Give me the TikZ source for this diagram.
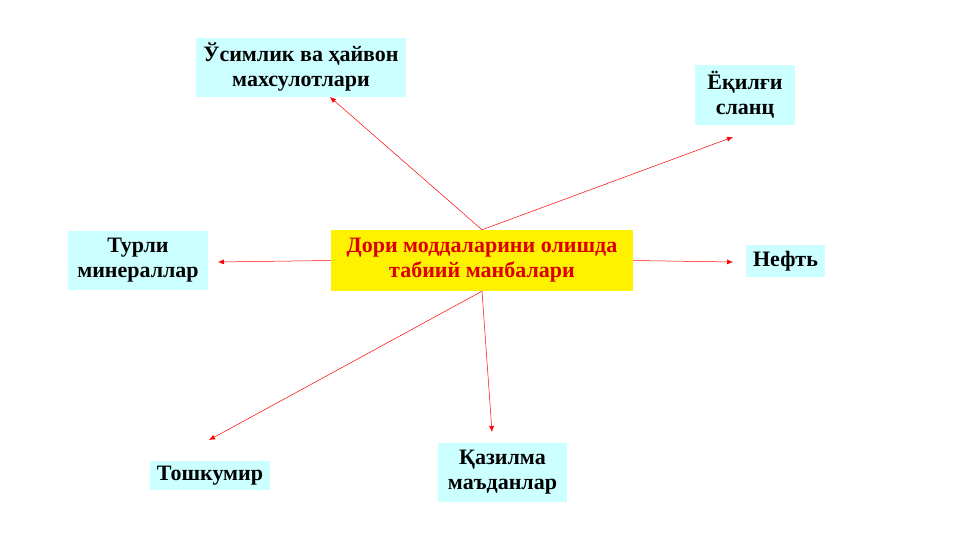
\documentclass[tikz,border=0pt]{standalone}
\usepackage{fontspec}
\setmainfont{Liberation Serif}
\usepackage{tikz}
\usetikzlibrary{arrows.meta}

\definecolor{boxcyan}{RGB}{204,255,255}
\definecolor{titlered}{RGB}{220,0,0}

\begin{document}
\begin{tikzpicture}[x=1pt, y=-1pt,
    source/.style={fill=boxcyan, align=center, inner sep=0pt, font=\fontsize{22}{25}\selectfont\bfseries},
    mainbox/.style={fill=yellow, text=titlered, align=center, inner sep=0pt, font=\fontsize{22}{25}\selectfont\bfseries},
    link/.style={red, line width=0.5pt, -{Latex[length=6pt,width=5pt]}}]
    \useasboundingbox (0,0) rectangle (961,540);
    %% Centre
    \node[mainbox, minimum width=302, minimum height=61] (main) at (482,260.5) {Дори моддаларини олишда\\табиий манбалари};
    %% Sources
    \node[source, minimum width=210, minimum height=59] (plant) at (301,67.5) {Ўсимлик ва ҳайвон\\махсулотлари};
    \node[source, minimum width=100, minimum height=60] (fuel) at (745,95) {Ёқилғи\\сланц};
    \node[source, minimum width=140, minimum height=59] (mineral) at (138,260.5) {Турли\\минераллар};
    \node[source, minimum width=79, minimum height=32] (oil) at (785.5,261) {Нефть};
    \node[source, minimum width=120, minimum height=29] (coal) at (210,475.5) {Тошкумир};
    \node[source, minimum width=129, minimum height=59] (ore) at (502.5,472.5) {Қазилма\\маъданлар};
    %% Arrow tips
    \coordinate (plant-in) at (330,97);
    \coordinate (fuel-in) at (733,137);
    \coordinate (mineral-in) at (218,262);
    \coordinate (oil-in) at (733,262);
    \coordinate (coal-in) at (209,440);
    \coordinate (ore-in) at (492,432);
    %% Links
    \draw[link] (main.north) -- (plant-in);
    \draw[link] (main.north) -- (fuel-in);
    \draw[link] (main.west) -- (mineral-in);
    \draw[link] (main.east) -- (oil-in);
    \draw[link] (main.south) -- (coal-in);
    \draw[link] (main.south) -- (ore-in);
\end{tikzpicture}
\end{document}
